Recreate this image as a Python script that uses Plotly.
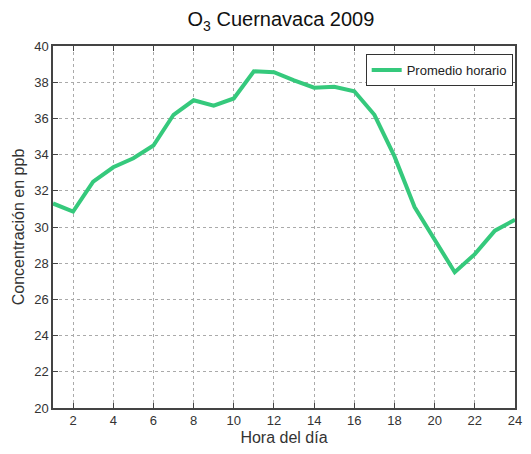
import plotly.graph_objects as go

hours = list(range(1, 25))
o3_ppb = [31.3, 30.85, 32.5, 33.3, 33.8, 34.5, 36.2, 37.0, 36.7, 37.1, 38.6, 38.55,
          38.1, 37.7, 37.75, 37.5, 36.2, 33.9, 31.1, 29.3, 27.5, 28.5, 29.8, 30.4]
x_ticks = list(range(2, 25, 2))
y_ticks = list(range(20, 41, 2))

font = "Liberation Sans, Arial, sans-serif"

fig = go.Figure()
fig.add_trace(go.Scatter(x=hours, y=o3_ppb, mode="lines", name="Promedio horario",
                         line=dict(color="#35c97c", width=4)))

axis_common = dict(showline=True, linecolor="#444", linewidth=1.5, mirror="ticks",
                   ticks="inside", ticklen=5, tickcolor="#444", automargin=False,
                   showgrid=True, gridcolor="#aaa", griddash="dot", gridwidth=1,
                   ticklabeloverflow="allow",
                   zeroline=False, tickfont=dict(size=13, color="#333", family=font))

fig.update_xaxes(range=[1, 24], tickvals=x_ticks,
                 title=dict(text="Hora del día", font=dict(size=16, color="#333"), standoff=4), **axis_common)
fig.update_yaxes(range=[20, 40], tickvals=y_ticks,
                 title=dict(text="Concentración en ppb", font=dict(size=16, color="#333"), standoff=6), **axis_common)

# page body has an 8px margin; keep the figure inside the viewport (no scrollbars)
fig.update_layout(
    width=515, height=438,
    margin=dict(l=45, r=8, t=38, b=38, autoexpand=False),
    paper_bgcolor="white", plot_bgcolor="white",
    font=dict(family=font, color="#222"),
    title=dict(text="O<sub>3</sub> Cuernavaca 2009", x=0.53, xanchor="center", y=0.99, yanchor="top",
               font=dict(size=20, color="#111")),
    legend=dict(x=0.995, xanchor="right", y=0.978, yanchor="top", bgcolor="white",
                bordercolor="#333", borderwidth=1, font=dict(size=13, color="#222")),
    showlegend=True,
)

fig.write_html("out.html")
